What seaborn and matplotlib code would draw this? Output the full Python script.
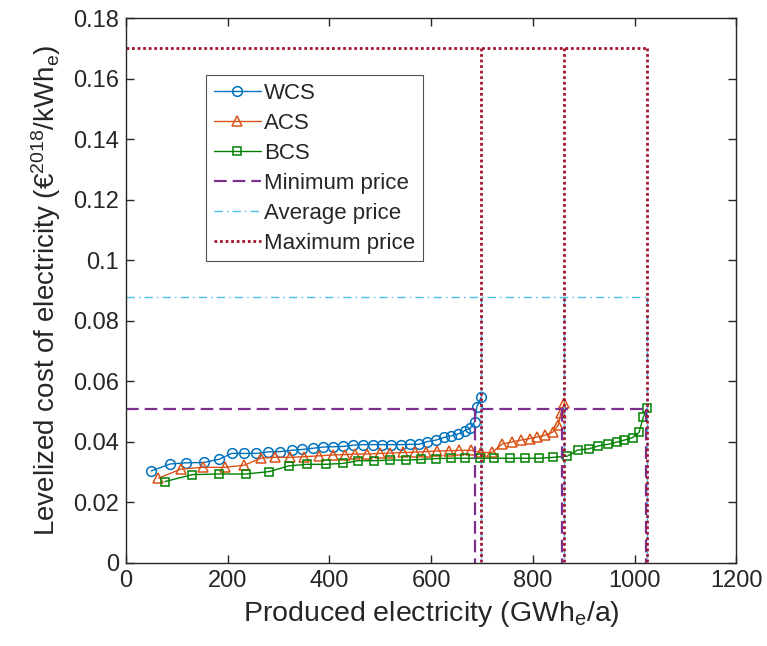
import numpy as np
import pandas as pd
import matplotlib
matplotlib.use("Agg")
import matplotlib.pyplot as plt
import seaborn as sns

# supply curves (GWh_e/a, EUR2018/kWh_e)
wcs_x = [50, 87, 119, 154, 184, 208, 232, 256, 280, 303, 326, 347, 368, 388,
         408, 427, 446, 466, 485, 503, 522, 541, 558, 576, 593, 610, 626, 640,
         653, 666, 677, 686, 690, 699]
wcs_y = [0.0304, 0.0327, 0.0331, 0.0332, 0.0343, 0.0362, 0.0362, 0.0362, 0.0367,
         0.0368, 0.0372, 0.0375, 0.0379, 0.0383, 0.0384, 0.0385, 0.0389, 0.0391,
         0.0391, 0.0391, 0.0391, 0.0391, 0.0392, 0.0392, 0.0401, 0.0406, 0.0415,
         0.0420, 0.0426, 0.0437, 0.0445, 0.0467, 0.0516, 0.0549]

acs_x = [64, 108, 151, 195, 233, 265, 293, 323, 351, 379, 408, 430, 450, 475,
         500, 520, 545, 568, 590, 612, 635, 655, 678, 698, 720, 740, 759, 777,
         794, 808, 824, 840, 850, 855, 862]
acs_y = [0.0280, 0.0310, 0.0316, 0.0316, 0.0323, 0.0346, 0.0349, 0.0349, 0.0351,
         0.0354, 0.0357, 0.0358, 0.0360, 0.0360, 0.0362, 0.0363, 0.0365, 0.0366,
         0.0368, 0.0370, 0.0371, 0.0372, 0.0372, 0.0365, 0.0365, 0.0393, 0.0400,
         0.0406, 0.0411, 0.0416, 0.0422, 0.0433, 0.0456, 0.0494, 0.0530]

bcs_x = [77, 131, 183, 236, 282, 321, 356, 393, 427, 457, 488, 520, 551, 580,
         610, 639, 667, 696, 724, 755, 784, 812, 840, 868, 888, 910, 929, 948,
         965, 980, 996, 1009, 1017, 1025]
bcs_y = [0.0269, 0.0292, 0.0294, 0.0294, 0.0302, 0.0321, 0.0326, 0.0326, 0.0329,
         0.0338, 0.0338, 0.0340, 0.0340, 0.0342, 0.0345, 0.0346, 0.0346, 0.0346,
         0.0346, 0.0346, 0.0346, 0.0346, 0.0349, 0.0353, 0.0373, 0.0377, 0.0387,
         0.0392, 0.0399, 0.0406, 0.0414, 0.0432, 0.0481, 0.0511]

# electricity prices and where each curve meets them
min_price = 0.051
avg_price = 0.088
max_price = 0.170
x_at_min = [686, 858, 1022]     # WCS, ACS, BCS
x_at_full = [698, 862, 1025]

sns.set_style("ticks")
plt.rcParams["font.family"] = ["Liberation Sans", "DejaVu Sans"]
plt.rcParams["mathtext.default"] = "regular"
plt.rcParams["xtick.direction"] = "in"
plt.rcParams["ytick.direction"] = "in"
plt.rcParams["axes.edgecolor"] = "#262626"

fig, ax = plt.subplots(figsize=(7.67, 6.46), dpi=100)
fig.subplots_adjust(left=0.164, right=0.96, bottom=0.1285, top=0.972)

curves = [("WCS", wcs_x, wcs_y, "#0072BD", "o", 7),
          ("ACS", acs_x, acs_y, "#D95319", "^", 7),
          ("BCS", bcs_x, bcs_y, "#008000", "s", 5.5)]
for name, xs, ys, col, mk, ms in curves:
    df = pd.DataFrame({"x": xs, "y": ys})
    sns.lineplot(data=df, x="x", y="y", sort=False, color=col, marker=mk,
                 markersize=ms, markerfacecolor="none", markeredgecolor=col,
                 markeredgewidth=1.1, linewidth=1.0, label=name, ax=ax)


def step_path(price, xs, x_end):
    # horizontal line at the price, then a drop to zero at each x
    px, py = [0, x_end], [price, price]
    for xv in xs:
        px += [np.nan, xv, xv]
        py += [np.nan, price, 0]
    return px, py


x_end = max(x_at_full)
px, py = step_path(min_price, x_at_min, x_end)
ax.plot(px, py, color="#7E2F8E", linestyle=(0, (5.7, 2.7)), linewidth=1.6,
        label="Minimum price")
px, py = step_path(avg_price, x_at_full, x_end)
ax.plot(px, py, color="#4DBEEE", linestyle=(0, (6, 3, 1, 3)), linewidth=1.0,
        label="Average price")
px, py = step_path(max_price, x_at_full, x_end)
ax.plot(px, py, color="#A2142F", linestyle=(0, (1, 1)), linewidth=2.0,
        label="Maximum price")

ax.set_xlim(0, 1200)
ax.set_ylim(0, 0.18)
ax.set_xticks(np.arange(0, 1201, 200))
ax.set_yticks(np.arange(0, 0.181, 0.02))
ax.set_yticklabels(["0", "0.02", "0.04", "0.06", "0.08", "0.1", "0.12",
                    "0.14", "0.16", "0.18"])
ax.tick_params(labelsize=17, length=6, width=1, colors="#262626",
               top=True, right=True, labelcolor="#262626", pad=5)
for s in ax.spines.values():
    s.set_visible(True)
    s.set_linewidth(1.0)

ax.set_xlabel("Produced electricity (GWh$_e$/a)", fontsize=20.5,
              color="#262626", labelpad=5)
ax.set_ylabel("Levelized cost of electricity (€$^{2018}$/kWh$_e$)",
              fontsize=20, color="#262626", labelpad=7)

leg = ax.legend(loc="upper left", bbox_to_anchor=(0.132, 0.895), fontsize=16,
                frameon=True, fancybox=False, borderaxespad=0,
                handlelength=2.1, handletextpad=0.15, labelspacing=0.4,
                borderpad=0.35)
leg.get_frame().set_edgecolor("#262626")
leg.get_frame().set_linewidth(0.8)

fig.savefig("out.png", dpi=100)
